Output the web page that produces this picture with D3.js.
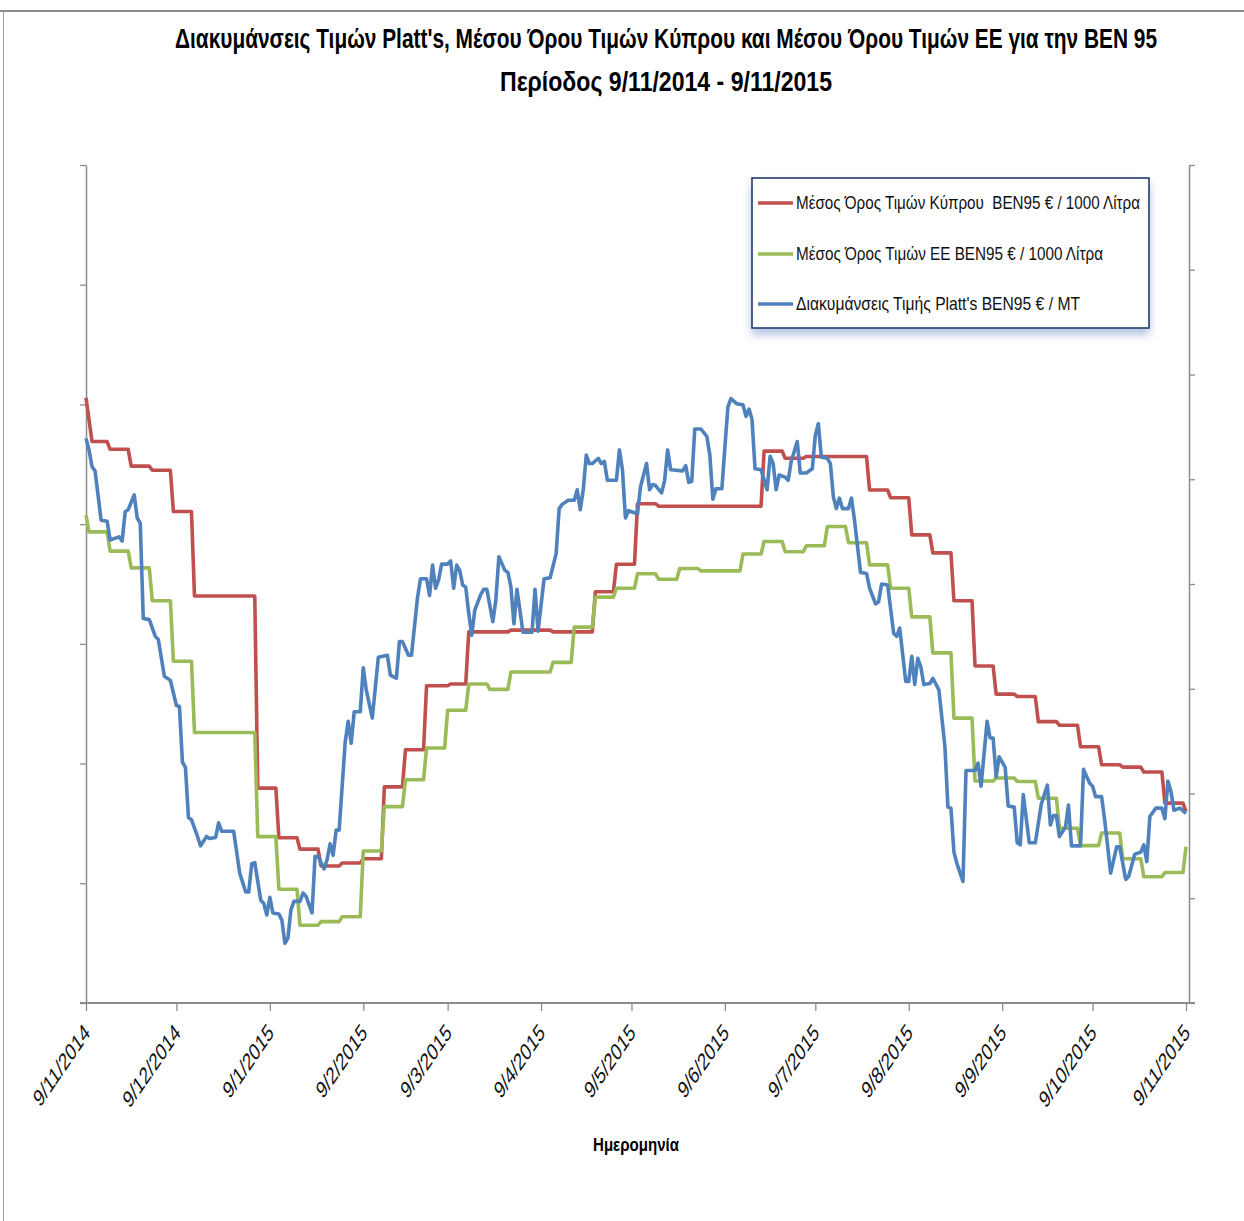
<!DOCTYPE html>
<html><head><meta charset="utf-8">
<script src="https://cdn.jsdelivr.net/npm/d3@7"></script>
<style>body{margin:0;background:#fff}svg{display:block}text{white-space:pre}</style>
</head><body>
<script>
const title1 = "Διακυμάνσεις Τιμών Platt's, Μέσου Όρου Τιμών Κύπρου και Μέσου Όρου Τιμών ΕΕ για την ΒΕΝ 95";
const title2 = "Περίοδος 9/11/2014 - 9/11/2015";
const xAxisTitle = "Ημερομηνία";
const seriesNames = ["Μέσος Όρος Τιμών Κύπρου  ΒΕΝ95 € / 1000 Λίτρα", "Μέσος Όρος Τιμών ΕΕ ΒΕΝ95 € / 1000 Λίτρα", "Διακυμάνσεις Τιμής Platt's ΒΕΝ95 € / ΜΤ"];
const seriesColors = ["#C0504D", "#9BBB59", "#4F81BD"];
const tickLabels = ["9/11/2014","9/12/2014","9/1/2015","9/2/2015","9/3/2015","9/4/2015","9/5/2015","9/6/2015","9/7/2015","9/8/2015","9/9/2015","9/10/2015","9/11/2015"];
const startLabel = "9/11/2014";
const leftTicks = [0,200,400,600,800,1000,1200,1400];
const rightTicks = [0,100,200,300,400,500,600,700,800];

// Days since 9/11/2014 and values (€ / 1000 L)
const cyprusDays = [0,2,7,8,14,15,21,22,28,29,35,36,56,57,63,64,70,71,77,78,84,85,91,92,98,99,105,106,112,113,120,121,126,127,140,141,154,155,168,169,175,176,182,183,189,190,224,225,231,232,238,239,259,260,266,267,273,274,280,281,287,288,294,295,301,302,308,309,315,316,322,323,329,330,336,337,343,344,350,351,357,358,364,365];
const cyprusValues = [1011,938,938,925,925,897,897,890,890,821,821,680,680,359,359,276,276,257,257,229,229,234,234,241,241,361,361,423,423,530,530,533,533,620,620,623,623,620,620,687,687,733,733,834,834,830,830,922,922,910,910,913,913,857,857,844,844,782,782,752,752,672,672,563,563,516,516,512,512,470,470,464,464,428,428,398,398,394,394,386,386,334,334,320];
const euDays = [0,1,7,8,14,15,21,22,28,29,35,36,56,57,63,64,70,71,77,78,84,85,91,92,98,99,105,106,112,113,119,120,126,127,133,134,140,141,154,155,161,162,168,169,175,176,182,183,189,190,196,197,203,204,217,218,224,225,231,232,238,239,245,246,252,253,259,260,266,267,273,274,280,281,287,288,294,295,301,302,308,309,315,316,322,323,329,330,336,337,343,344,350,351,357,358,364,365];
const euValues = [815,787,787,755,755,727,727,672,672,571,571,452,452,278,278,190,190,130,130,136,136,144,144,254,254,328,328,373,373,426,426,489,489,533,533,524,524,553,553,569,569,628,628,678,678,693,693,717,717,708,708,726,726,722,722,750,750,771,771,754,754,764,764,796,796,769,769,732,732,693,693,645,645,585,585,476,476,371,371,376,376,370,370,342,342,292,292,263,263,284,284,241,241,211,211,218,218,261];
// [day, € / MT]
const plattsSeries = [[0,539],[1,528],[2,512],[3,508],[4,485],[5,461],[7,460],[8,442],[10,444],[11,445],[12,441],[13,469],[14,471],[16,485],[17,463],[18,458],[19,367],[21,366],[23,350],[24,347],[26,312],[28,308],[30,284],[31,283],[32,230],[33,225],[34,177],[35,175],[37,159],[38,150],[40,159],[41,157],[43,158],[44,172],[45,164],[49,164],[51,124],[53,106],[54,106],[55,133],[56,134],[58,98],[59,95],[60,84],[61,101],[62,86],[64,85],[65,79],[66,57],[67,62],[68,89],[69,97],[71,97],[72,105],[73,102],[75,86],[76,140],[77,140],[79,128],[80,137],[81,152],[82,141],[83,165],[84,165],[86,249],[87,269],[88,248],[89,278],[91,278],[92,320],[93,299],[95,272],[97,330],[100,332],[101,313],[103,310],[104,345],[105,345],[107,332],[108,332],[110,387],[111,405],[113,405],[114,389],[115,418],[116,396],[117,404],[118,419],[120,419],[121,422],[122,396],[123,418],[124,413],[125,399],[126,397],[127,372],[128,351],[129,375],[131,390],[132,395],[133,395],[135,364],[136,385],[137,426],[139,413],[140,411],[141,397],[142,362],[143,395],[145,354],[148,354],[149,395],[150,355],[152,405],[154,406],[156,429],[157,472],[158,476],[160,480],[162,480],[163,490],[164,471],[165,490],[166,523],[167,515],[168,515],[170,520],[171,515],[172,517],[173,499],[176,499],[177,528],[178,509],[179,463],[180,470],[183,467],[184,493],[186,515],[187,490],[188,495],[189,494],[191,487],[192,499],[193,528],[194,509],[198,508],[199,513],[200,497],[201,498],[202,548],[204,548],[206,541],[207,523],[208,481],[209,491],[211,491],[212,531],[213,569],[214,577],[216,572],[218,571],[219,560],[220,567],[221,557],[222,510],[224,509],[226,490],[227,522],[228,515],[229,490],[230,504],[232,502],[233,499],[234,517],[236,536],[237,506],[239,506],[241,510],[242,542],[243,553],[244,521],[246,520],[247,515],[248,483],[249,472],[250,482],[251,472],[253,472],[254,482],[255,461],[256,436],[257,411],[259,410],[260,396],[262,381],[263,383],[264,400],[266,399],[268,353],[269,350],[270,358],[272,307],[273,307],[274,331],[275,304],[276,329],[277,321],[278,304],[280,305],[281,310],[283,299],[285,245],[286,187],[287,186],[288,144],[289,133],[291,116],[292,222],[295,222],[296,229],[297,207],[299,269],[300,253],[301,253],[302,216],[303,235],[305,225],[306,188],[308,187],[309,153],[310,151],[311,199],[313,153],[315,153],[317,190],[319,208],[320,170],[321,179],[322,179],[323,159],[325,168],[326,189],[327,150],[330,150],[331,223],[333,210],[334,207],[335,197],[337,197],[338,175],[340,124],[342,149],[343,149],[345,118],[346,121],[348,142],[350,144],[351,151],[352,135],[353,178],[355,186],[357,186],[358,176],[359,212],[360,202],[361,184],[363,186],[365,181]];

const W = 1244, H = 1221;
const parse = d3.timeParse("%d/%m/%Y");
const start = parse(startLabel);
const tickDates = tickLabels.map(parse);
const dayToDate = d => d3.timeDay.offset(start, d);

const svg = d3.select("body").append("svg").attr("width", W).attr("height", H);
const defs = svg.append("defs");
const f = defs.append("filter").attr("id","shadow").attr("x","-10%").attr("y","-10%").attr("width","120%").attr("height","140%");
f.append("feDropShadow").attr("dx",0).attr("dy",6).attr("stdDeviation",4).attr("flood-color","#5a7fbf").attr("flood-opacity",0.45);

// outer frame
svg.append("line").attr("x1",0).attr("x2",W).attr("y1",11).attr("y2",11).attr("stroke","#8a8a8a").attr("stroke-width",2);
svg.append("line").attr("x1",3.5).attr("x2",3.5).attr("y1",11).attr("y2",H).attr("stroke","#a0a0a0").attr("stroke-width",1);

const fontMain = "'Liberation Sans', Arial, 'DejaVu Sans', sans-serif";

// titles (vertically stretched to mimic the condensed original face)
svg.append("g").attr("transform","translate(666,48) scale(1,1.28)")
  .append("text").attr("x",0).attr("y",0).attr("text-anchor","middle")
  .attr("font-family",fontMain).attr("font-weight","bold").attr("font-size",22)
  .attr("textLength",982).attr("lengthAdjust","spacingAndGlyphs").text(title1);
svg.append("g").attr("transform","translate(666,91) scale(1,1.28)")
  .append("text").attr("x",0).attr("y",0).attr("text-anchor","middle")
  .attr("font-family",fontMain).attr("font-weight","bold").attr("font-size",22)
  .attr("textLength",332).attr("lengthAdjust","spacingAndGlyphs").text(title2);

const x = d3.scaleTime().domain([start, tickDates[tickDates.length-1]]).range([86, 1186]);
const yL = d3.scaleLinear().domain([0,1400]).range([1003,165]);
const yR = d3.scaleLinear().domain([0,800]).range([1003,165]);
const axisColor = "#8c8c8c";

function styleAxis(g, w){
  g.selectAll("path").attr("stroke",axisColor).attr("stroke-width",w);
  g.selectAll("line").attr("stroke",axisColor).attr("stroke-width",1.3);
}
const gl = svg.append("g").attr("transform","translate(86,0)")
  .call(d3.axisLeft(yL).tickValues(leftTicks).tickSize(6).tickSizeOuter(0).tickFormat(""));
styleAxis(gl,1.5);
const gr = svg.append("g").attr("transform","translate(1189,0)")
  .call(d3.axisRight(yR).tickValues(rightTicks).tickSize(6).tickSizeOuter(0).tickFormat(""));
styleAxis(gr,1.5);
const gb = svg.append("g").attr("transform","translate(0,1003)")
  .call(d3.axisBottom(x).tickValues(tickDates).tickSize(8).tickSizeOuter(0).tickFormat(""));
gb.select("path").remove();
gb.selectAll("line").attr("stroke",axisColor).attr("stroke-width",1.3);
svg.append("line").attr("x1",80).attr("x2",1195).attr("y1",1003).attr("y2",1003).attr("stroke",axisColor).attr("stroke-width",2.2);

// tick labels (rotated)
svg.append("g").selectAll("text").data(tickDates).join("text")
  .attr("transform",(d)=>`translate(${x(d)+5},1034) scale(1,1.45) rotate(-45)`)
  .attr("text-anchor","end").attr("font-family",fontMain).attr("font-size",16.5).attr("fill","#111")
  .text((d,i)=>tickLabels[i]);

svg.append("g").attr("transform","translate(636,1151) scale(1,1.25)")
  .append("text").attr("x",0).attr("y",0).attr("text-anchor","middle")
  .attr("font-family",fontMain).attr("font-weight","bold").attr("font-size",15)
  .attr("textLength",86).attr("lengthAdjust","spacingAndGlyphs").text(xAxisTitle);

// lines
const cyprus = cyprusDays.map((d,i)=>[dayToDate(d), cyprusValues[i]]);
const eu = euDays.map((d,i)=>[dayToDate(d), euValues[i]]);
const platts = plattsSeries.map(p=>[dayToDate(p[0]), p[1]]);
const lineL = d3.line().x(d=>x(d[0])).y(d=>yL(d[1]));
const lineR = d3.line().x(d=>x(d[0])).y(d=>yR(d[1]));
const lw = 3.6;
svg.append("path").datum(cyprus).attr("d",lineL).attr("fill","none").attr("stroke",seriesColors[0]).attr("stroke-width",lw).attr("stroke-linejoin","round");
svg.append("path").datum(eu).attr("d",lineL).attr("fill","none").attr("stroke",seriesColors[1]).attr("stroke-width",lw).attr("stroke-linejoin","round");
svg.append("path").datum(platts).attr("d",lineR).attr("fill","none").attr("stroke",seriesColors[2]).attr("stroke-width",lw).attr("stroke-linejoin","round");

// legend
const lg = svg.append("g");
lg.append("rect").attr("x",752).attr("y",178).attr("width",397).attr("height",150)
  .attr("fill","#fff").attr("stroke","#22366e").attr("stroke-width",1.6).attr("filter","url(#shadow)");
const legendRows = [203,254,304];
const legendWidths = [344,307,284];
seriesNames.forEach((name,i)=>{
  lg.append("line").attr("x1",758).attr("x2",793).attr("y1",legendRows[i]).attr("y2",legendRows[i])
    .attr("stroke",seriesColors[i]).attr("stroke-width",lw);
  lg.append("g").attr("transform",`translate(796,${legendRows[i]+6}) scale(1,1.2)`)
    .append("text").attr("x",0).attr("y",0).attr("font-family",fontMain).attr("font-size",15).attr("fill","#111")
    .attr("textLength",legendWidths[i]).attr("lengthAdjust","spacingAndGlyphs").text(name);
});
</script>
</body></html>
